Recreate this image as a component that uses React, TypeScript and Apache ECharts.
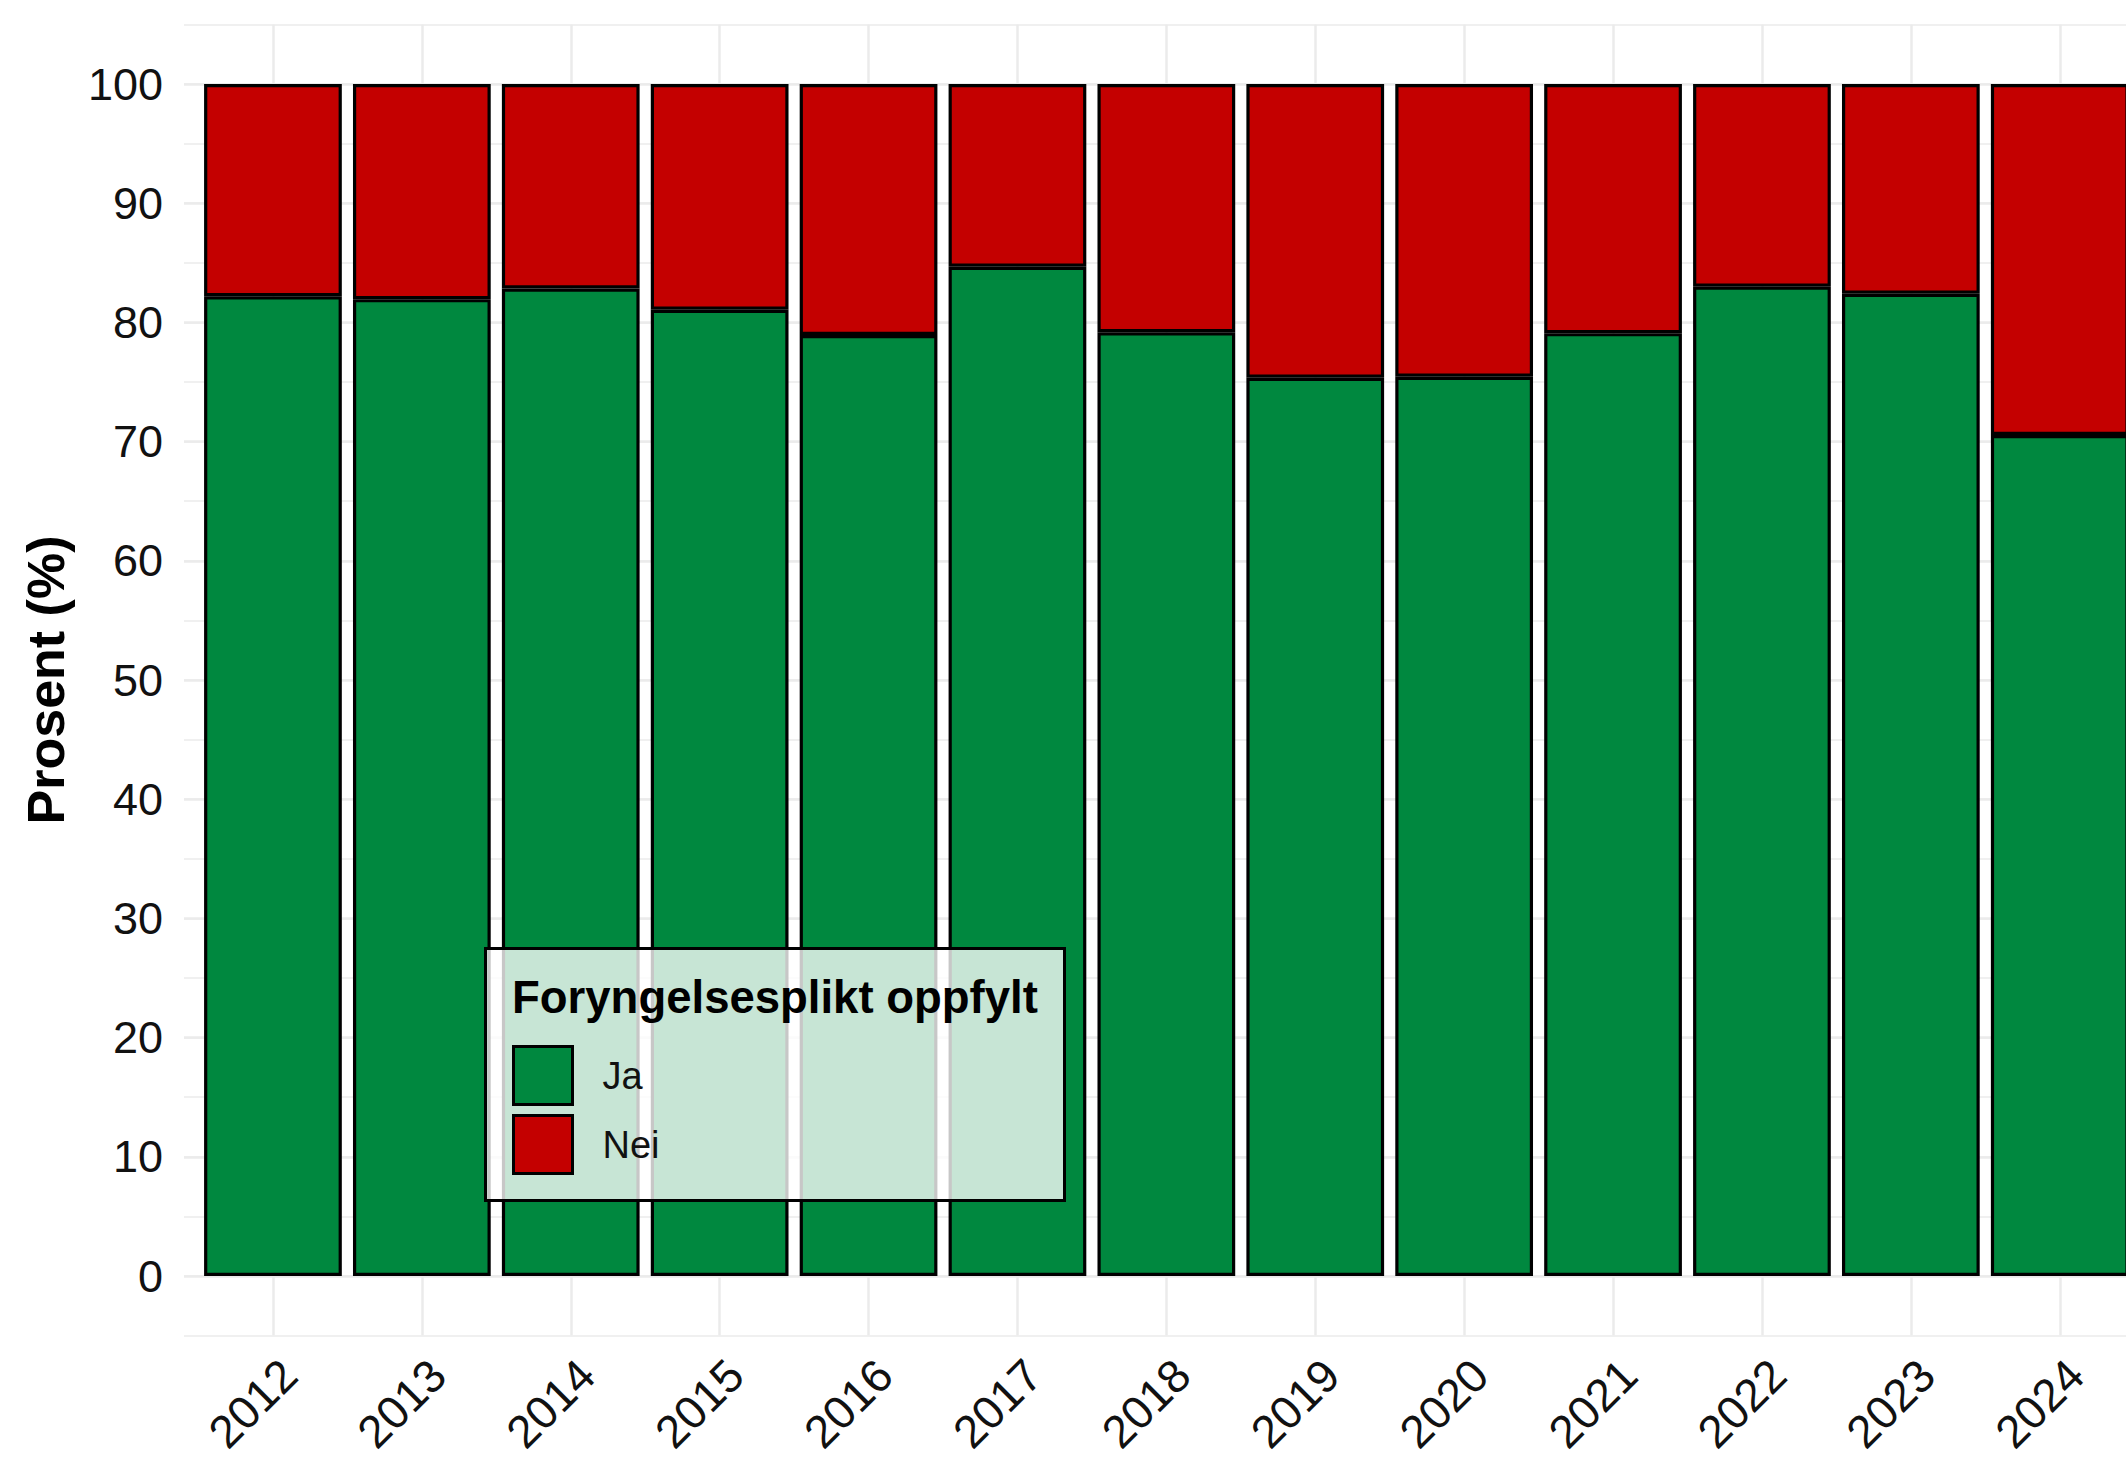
import React, { useEffect, useRef } from "react";
import * as echarts from "echarts";

const years = ["2012", "2013", "2014", "2015", "2016", "2017", "2018", "2019", "2020", "2021", "2022", "2023", "2024"];
const jaValues = [82.2, 81.95, 82.84, 81.06, 78.94, 84.67, 79.17, 75.36, 75.44, 79.1, 83.0, 82.4, 70.55];
const neiValues = [17.8, 18.05, 17.16, 18.94, 21.06, 15.33, 20.83, 24.64, 24.56, 20.9, 17.0, 17.6, 29.45];
const seriesNames = ["Ja", "Nei"];
const legendTitle = "Foryngelsesplikt oppfylt";
const yAxisTitle = "Prosent (%)";

const FONT = "'Liberation Sans', Arial, sans-serif";
const GREEN = "#00883f";
const RED = "#c40000";
const GRID_COLOR = "#ebebeb";

// layout (pixels)
const CHART_W = 2240;
const PANEL_LEFT = 184;
const PANEL_TOP = 24.4;
const PANEL_H = 1311.2;
const Y_TOP = 84;
const Y_H = 1192;
const BAND = 148.9;
const CAT_LEFT = 198.5;
const CAT_W = BAND * 13;
const LABEL_SHIFT = 16;

export default function App() {
  const ref = useRef<HTMLDivElement>(null);
  useEffect(() => {
    if (!ref.current) return;
    const chart = echarts.init(ref.current, null, { renderer: "svg" });
    const hiddenY = (min: number, max: number, grid: number) => ({
      type: "value", gridIndex: grid, min, max, show: false,
    });
    chart.setOption({
      animation: false,
      backgroundColor: "#ffffff",
      textStyle: { fontFamily: FONT },
      grid: [
        { left: PANEL_LEFT, width: 2030, top: PANEL_TOP, height: PANEL_H },
        { left: PANEL_LEFT, width: 2030, top: Y_TOP, height: Y_H },
        { left: CAT_LEFT, width: CAT_W, top: PANEL_TOP, height: PANEL_H },
        { left: CAT_LEFT + LABEL_SHIFT, width: CAT_W, top: PANEL_TOP, height: PANEL_H },
        { left: CAT_LEFT + BAND / 2, width: BAND * 12, top: PANEL_TOP, height: PANEL_H },
      ],
      xAxis: [
        { type: "value", gridIndex: 0, min: 0, max: 1, show: false },
        { type: "value", gridIndex: 1, min: 0, max: 1, show: false },
        {
          type: "category", gridIndex: 2, data: years,
          axisLine: { show: false }, axisTick: { show: false }, axisLabel: { show: false },
          splitLine: { show: false },
        },
        {
          type: "category", gridIndex: 3, data: years,
          axisLine: { show: false }, axisTick: { show: false },
          axisLabel: { show: true, rotate: 45, margin: 47, fontSize: 46, color: "#111", fontFamily: FONT },
          splitLine: { show: false },
        },
        {
          type: "value", gridIndex: 4, min: 0, max: 12, interval: 1,
          axisLine: { show: false }, axisTick: { show: false }, axisLabel: { show: false },
          splitLine: { show: true, lineStyle: { color: GRID_COLOR, width: 2.5 } },
        },
      ],
      yAxis: [
        {
          type: "value", gridIndex: 0, min: -5, max: 105, interval: 5,
          axisLine: { show: false }, axisTick: { show: false }, axisLabel: { show: false },
          splitLine: { show: true, lineStyle: { color: GRID_COLOR, width: 1.5 } },
        },
        {
          type: "value", gridIndex: 1, min: 0, max: 100, interval: 10,
          axisLine: { show: false }, axisTick: { show: false },
          axisLabel: { show: true, margin: 21, fontSize: 45, color: "#111", fontFamily: FONT },
          splitLine: { show: true, lineStyle: { color: GRID_COLOR, width: 2.5 } },
          name: yAxisTitle, nameLocation: "middle", nameRotate: 90, nameGap: 112,
          nameTextStyle: { fontSize: 52, fontWeight: "bold", color: "#000", fontFamily: FONT },
        },
        hiddenY(-5, 105, 2),
        hiddenY(-5, 105, 3),
        hiddenY(-5, 105, 4),
      ],
      legend: {
        data: seriesNames,
        orient: "vertical",
        left: 512,
        top: 1045,
        padding: 0,
        itemWidth: 59,
        itemHeight: 58,
        itemGap: 8,
        icon: "rect",
        z: 110,
        itemStyle: { borderColor: "#000", borderWidth: 3 },
        textStyle: { fontSize: 38, color: "#111", fontFamily: FONT, padding: [0, 0, 0, 25] },
        selectedMode: false,
      },
      graphic: [
        {
          type: "rect", z: 100, left: 484, top: 947,
          shape: { width: 579, height: 252 },
          style: { fill: "rgba(255,255,255,0.78)", stroke: "#000", lineWidth: 3 },
        },
        {
          type: "text", z: 105, x: 512, y: 997,
          style: { text: legendTitle, font: `bold 45.5px ${FONT}`, fill: "#000", verticalAlign: "middle", align: "left" },
        },
      ],
      series: [
        {
          name: seriesNames[0], type: "bar", stack: "total", xAxisIndex: 2, yAxisIndex: 2,
          data: jaValues, barWidth: "92.5%",
          itemStyle: { color: GREEN, borderColor: "#000", borderWidth: 3.2 },
        },
        {
          name: seriesNames[1], type: "bar", stack: "total", xAxisIndex: 2, yAxisIndex: 2,
          data: neiValues, barWidth: "92.5%",
          itemStyle: { color: RED, borderColor: "#000", borderWidth: 3.2 },
        },
      ],
    });
    return () => chart.dispose();
  }, []);
  return (
    <div style={{ position: "absolute", left: 0, top: 0, width: 2126, height: 1458, overflow: "hidden", background: "#fff" }}>
      <div ref={ref} style={{ width: CHART_W, height: 1458 }} />
    </div>
  );
}
